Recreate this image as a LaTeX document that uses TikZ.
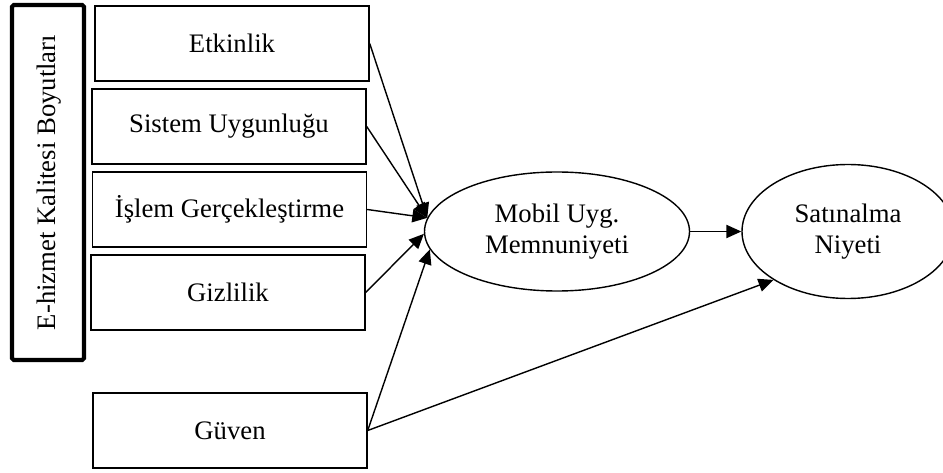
\documentclass[tikz,border=0pt]{standalone}
\usepackage{fontspec}
\setmainfont{Liberation Serif}
\usepackage{tikz}
\usetikzlibrary{arrows.meta,shapes.geometric}

\begin{document}
\begin{tikzpicture}[font=\fontsize{15.2}{18}\selectfont,
  kutu/.style={rectangle,draw,line width=0.8pt,minimum width=5.48cm,minimum height=1.5cm,inner sep=0pt},
  elips/.style={ellipse,draw,line width=0.8pt,align=center,inner sep=0pt},
  ok/.style={line width=0.8pt,-{Triangle[length=8.5pt,width=7.5pt]}}]
\useasboundingbox (0,0) rectangle (18.86,9.44);

\node[rectangle,draw,line width=2.4pt,rounded corners=1pt,minimum width=1.44cm,minimum height=7.1cm] (boy) at (0.96,5.79) {};
\node[rotate=90] (boyt) at (0.98,5.79) {E-hizmet Kalitesi Boyutları};

\begin{scope}[every node/.style={kutu}]
\node (etk) at (4.64,8.57) {Etkinlik};
\node (sis) at (4.58,6.91) {Sistem Uygunluğu};
\node (isl) at (4.59,5.25) {İşlem Gerçekleştirme};
\node (giz) at (4.56,3.59) {Gizlilik};
\node (guv) at (4.60,0.83) {Güven};
\end{scope}

\node[elips,minimum width=5.3cm,minimum height=2.38cm] (mem) at (11.14,4.81) {Mobil Uyg.\\Memnuniyeti};
\node[elips,minimum width=4.24cm,minimum height=2.68cm] (sat) at (16.96,4.81) {Satınalma\\Niyeti};

\draw[ok] (etk.east) -- (mem.174);
\draw[ok] (sis.east) -- (mem.174);
\draw[ok] (isl.east) -- (mem.174);
\draw[ok] (giz.east) -- (mem.181);
\draw[ok] (guv.east) -- (mem.188);

\draw[ok] (mem.east) -- (sat.west);
\draw[ok] (guv.east) -- (sat.213);

\end{tikzpicture}
\end{document}
